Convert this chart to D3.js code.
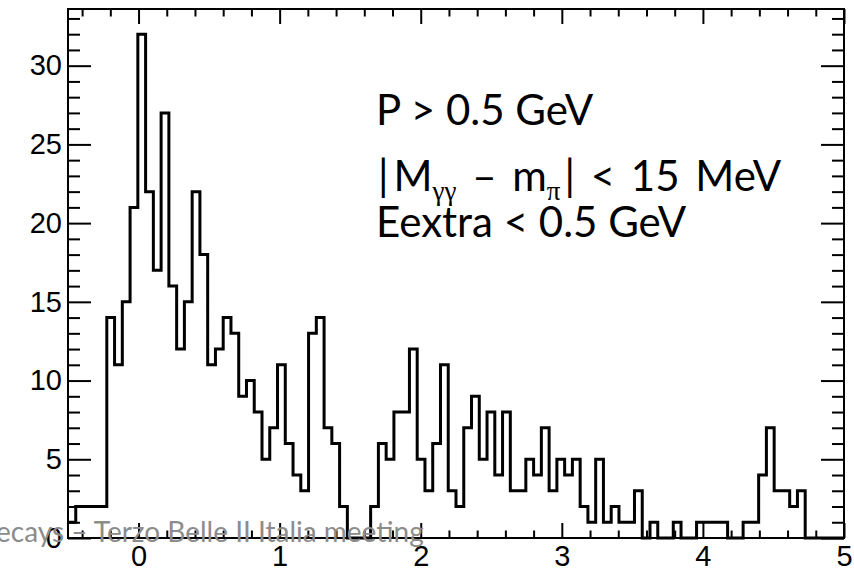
<!DOCTYPE html>
<html>
<head>
<meta charset="utf-8">
<title>histogram</title>
<style>
  body { margin: 0; background: #fff; }
  svg { display: block; }
</style>
</head>
<body>
<div class="plot_container"></div>
<script src="https://cdn.jsdelivr.net/npm/d3@7"></script>
<script>
// histogram: 100 bins from -0.5 to 5
var x_min = -0.5;
var x_max = 5;
var bin_counts = [
  1, 2, 2, 2, 2, 14, 11, 15, 21, 32,
  22, 17, 27, 16, 12, 15, 22, 18, 11, 12,
  14, 13, 9, 10, 8, 5, 7, 11, 6, 4,
  3, 13, 14, 7, 6, 2, 0, 0, 0, 2,
  6, 5, 8, 8, 12, 5, 3, 6, 11, 3,
  2, 7, 9, 5, 8, 4, 8, 3, 3, 5,
  4, 7, 3, 5, 4, 5, 2, 1, 5, 1,
  2, 1, 1, 3, 0, 1, 0, 0, 1, 0,
  0, 1, 1, 1, 1, 0, 0, 1, 1, 4,
  7, 3, 3, 2, 3, 0, 0, 0, 0, 0
];
var y_max = 33.6;
var x_tick_labels = [0, 1, 2, 3, 4, 5];
var y_tick_labels = [0, 5, 10, 15, 20, 25, 30];
var cut_lines = ["P > 0.5 GeV", "Eextra < 0.5 GeV"];
var footer_text = "ecays \u2013 Terzo Belle II Italia meeting";

var width = 854;
var height = 571;
var pad_left = 68, pad_right = 844, pad_top = 9, pad_bottom = 538;

var svg = d3.select(".plot_container").append("svg")
    .attr("width", width)
    .attr("height", height);

var x = d3.scaleLinear().domain([x_min, x_max]).range([pad_left, pad_right]);
var y = d3.scaleLinear().domain([0, y_max]).range([pad_bottom, pad_top]);

var bin_width = (x_max - x_min) / bin_counts.length;

// minor ticks
var x_minor = [];
for (var i = 0; i <= 27; i++) {
    var v = Math.round((x_min + 0.1 + i * 0.2) * 10) / 10;
    if (v % 1 !== 0 && v < x_max) x_minor.push(v);
}
var y_minor = [];
for (var j = 1; j < y_max; j++) {
    if (j % 5 !== 0) y_minor.push(j);
}

function style_axis(g) {
    g.select(".domain").remove();
    g.selectAll(".tick line").attr("stroke", "#000").attr("stroke-width", 2);
    g.selectAll("text")
        .attr("fill", "#000")
        .style("font-family", "'Liberation Sans', Arial, sans-serif")
        .style("font-size", "29px");
}

// bottom axis
svg.append("g").attr("transform", "translate(0," + pad_bottom + ")")
    .call(d3.axisBottom(x).tickValues(x_minor).tickSize(-7.5).tickFormat(""))
    .call(style_axis);
svg.append("g").attr("transform", "translate(0," + pad_bottom + ")")
    .call(d3.axisBottom(x).tickValues(x_tick_labels).tickSize(-15).tickPadding(7).tickFormat(d3.format("d")))
    .call(style_axis);

// top axis
svg.append("g").attr("transform", "translate(0," + pad_top + ")")
    .call(d3.axisTop(x).tickValues(x_minor).tickSize(-7.5).tickFormat(""))
    .call(style_axis);
svg.append("g").attr("transform", "translate(0," + pad_top + ")")
    .call(d3.axisTop(x).tickValues(x_tick_labels).tickSize(-15).tickFormat(""))
    .call(style_axis);

// left axis
svg.append("g").attr("transform", "translate(" + pad_left + ",0)")
    .call(d3.axisLeft(y).tickValues(y_minor).tickSize(-12).tickFormat(""))
    .call(style_axis);
svg.append("g").attr("transform", "translate(" + pad_left + ",0)")
    .call(d3.axisLeft(y).tickValues(y_tick_labels).tickSize(-23).tickPadding(6).tickFormat(d3.format("d")))
    .call(style_axis);

// right axis
svg.append("g").attr("transform", "translate(" + pad_right + ",0)")
    .call(d3.axisRight(y).tickValues(y_minor).tickSize(-12).tickFormat(""))
    .call(style_axis);
svg.append("g").attr("transform", "translate(" + pad_right + ",0)")
    .call(d3.axisRight(y).tickValues(y_tick_labels).tickSize(-23).tickFormat(""))
    .call(style_axis);

// frame
svg.append("rect")
    .attr("x", pad_left).attr("y", pad_top)
    .attr("width", pad_right - pad_left).attr("height", pad_bottom - pad_top)
    .attr("fill", "none").attr("stroke", "#000").attr("stroke-width", 2);

// histogram outline
var pts = bin_counts.map(function(d, i) {
    return [x_min + i * bin_width, d];
});
pts.push([x_max, bin_counts[bin_counts.length - 1]]);

var line = d3.line()
    .x(function(d) { return x(d[0]); })
    .y(function(d) { return y(d[1]); })
    .curve(d3.curveStepAfter);

svg.append("path")
    .datum(pts)
    .attr("d", line)
    .attr("fill", "none")
    .attr("stroke", "#000")
    .attr("stroke-width", 3);

// cut text
var txt_font = "Lato, 'Open Sans', sans-serif";
var sub_font = "'Liberation Serif', serif";
svg.append("text")
    .attr("x", 376).attr("y", 125)
    .style("font-family", txt_font).style("font-size", "42px")
    .text(cut_lines[0]);

var t2 = svg.append("text")
    .attr("x", 378).attr("y", 191)
    .style("font-family", txt_font).style("font-size", "42px")
    .style("word-spacing", "5px");
t2.append("tspan").text("|");
t2.append("tspan").attr("dx", 5).text("M");
t2.append("tspan").attr("dy", 9)
    .style("font-family", sub_font).style("font-size", "27px")
    .text("\u03b3\u03b3");
t2.append("tspan").attr("dy", -9).text(" \u2013 m");
t2.append("tspan").attr("dy", 9)
    .style("font-family", sub_font).style("font-size", "27px")
    .text("\u03c0");
t2.append("tspan").attr("dy", -9).attr("dx", 4).text("| < 15 MeV");

svg.append("text")
    .attr("x", 376).attr("y", 237)
    .style("font-family", txt_font).style("font-size", "42px")
    .text(cut_lines[1]);

// footer from the slide
svg.append("text")
    .attr("x", -4).attr("y", 542)
    .attr("fill", "#8c8c8c")
    .style("font-family", txt_font).style("font-size", "28px")
    .text(footer_text);
</script>
</body>
</html>
